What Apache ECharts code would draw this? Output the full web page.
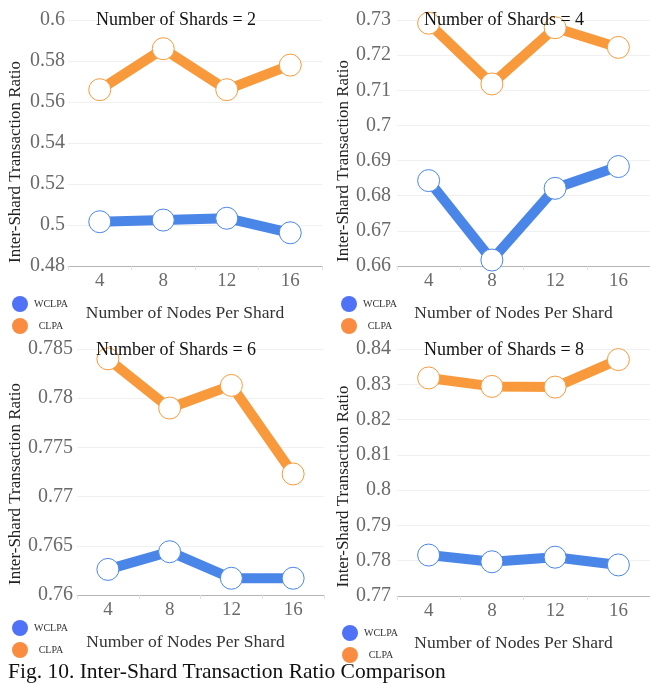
<!DOCTYPE html>
<html>
<head>
<meta charset="utf-8">
<script src="https://cdn.jsdelivr.net/npm/echarts@6/dist/echarts.min.js"></script>
<style>
  html, body { margin: 0; padding: 0; background: #fff; }
  #chart { width: 650px; height: 684px; }
</style>
</head>
<body>
<div id="chart"></div>
<script>
// Categories on every x axis
const nodesPerShard = ['4', '8', '12', '16'];

// Inter-shard transaction ratio, one pair of series per shard count
const wclpa2 = [0.5016, 0.5024, 0.5033, 0.4962];
const clpa2  = [0.5660, 0.5860, 0.5660, 0.5780];
const wclpa4 = [0.6843, 0.6617, 0.6821, 0.6883];
const clpa4  = [0.7291, 0.7118, 0.7278, 0.7222];
const wclpa6 = [0.7626, 0.7644, 0.7617, 0.7617];
const clpa6  = [0.7840, 0.7790, 0.7813, 0.7723];
const wclpa8 = [0.7816, 0.7797, 0.7810, 0.7788];
const clpa8  = [0.8318, 0.8294, 0.8292, 0.8370];

// y axis ranges: [min, max, interval]
const yRange2 = [0.48, 0.60, 0.02];
const yRange4 = [0.66, 0.73, 0.01];
const yRange6 = [0.76, 0.785, 0.005];
const yRange8 = [0.77, 0.84, 0.01];

const shardCounts = [2, 4, 6, 8];
const seriesNames = ['WCLPA', 'CLPA'];
const captionText = 'Fig. 10. Inter-Shard Transaction Ratio Comparison';

const FONT = 'Liberation Serif';
const BLUE_LINE = '#4a86e8';
const ORANGE_LINE = '#f89a3c';
const BLUE_DOT = '#4f72f7';
const ORANGE_DOT = '#f98c40';

const panels = [
  { wclpa: wclpa2, clpa: clpa2, range: yRange2,
    grid: { left: 68, top: 20, width: 254, height: 246 },
    titleX: 176, titleY: 20, yGap: 44, yShift: 38, xShift: 20, labelMargin: 3,
    legend: { left: 7, top: 291 } },
  { wclpa: wclpa4, clpa: clpa4, range: yRange4,
    grid: { left: 397, top: 20, width: 254, height: 246 },
    titleX: 504, titleY: 20, yGap: 45, yShift: 36, xShift: 20, labelMargin: 6,
    legend: { left: 336, top: 291 } },
  { wclpa: wclpa6, clpa: clpa6, range: yRange6,
    grid: { left: 77, top: 349, width: 247, height: 246 },
    titleX: 176, titleY: 350, yGap: 53, yShift: 24, xShift: 30, labelMargin: 4,
    legend: { left: 7, top: 615 } },
  { wclpa: wclpa8, clpa: clpa8, range: yRange8,
    grid: { left: 397, top: 349, width: 254, height: 247 },
    titleX: 504, titleY: 350, yGap: 45, yShift: 28, xShift: 20, labelMargin: 6,
    legend: { left: 337, top: 620 } }
];

const fmt = v => String(parseFloat(v.toFixed(3)));

const option = {
  backgroundColor: '#fff',
  animation: false,
  textStyle: { fontFamily: FONT },
  grid: [], xAxis: [], yAxis: [], series: [], legend: [], graphic: []
};

panels.forEach((p, i) => {
  option.grid.push(Object.assign({ containLabel: false }, p.grid));
  option.xAxis.push({
    type: 'category', gridIndex: i, data: nodesPerShard,
    name: 'Number of Nodes Per Shard', nameLocation: 'middle', nameGap: 38,
    nameTextStyle: { fontFamily: FONT, fontSize: 17.5, color: '#333', padding: [0, p.xShift, 0, 0] },
    axisLine: { show: true, lineStyle: { color: '#b5b5b5', width: 1 } },
    axisTick: { show: true, length: 4, lineStyle: { color: '#e2e2e2' } },
    axisLabel: { fontFamily: FONT, fontSize: 19, color: '#6a6a6a', margin: 6 },
    splitLine: { show: false }
  });
  option.yAxis.push({
    type: 'value', gridIndex: i,
    min: p.range[0], max: p.range[1], interval: p.range[2],
    name: 'Inter-Shard Transaction Ratio', nameLocation: 'middle', nameGap: p.yGap,
    nameTextStyle: { fontFamily: FONT, fontSize: 17, color: '#222', padding: [0, p.yShift, 0, 0] },
    axisLine: { show: false }, axisTick: { show: false },
    axisLabel: { fontFamily: FONT, fontSize: 20, color: '#6a6a6a', margin: p.labelMargin, formatter: fmt },
    splitLine: { show: true, lineStyle: { color: '#f0f0f0', width: 1 } }
  });
  [[p.wclpa, BLUE_LINE], [p.clpa, ORANGE_LINE]].forEach(([vals, col], k) => {
    option.series.push({
      type: 'line', name: seriesNames[k], xAxisIndex: i, yAxisIndex: i,
      data: vals, symbol: 'circle', symbolSize: 22,
      lineStyle: { color: col, width: 10 },
      itemStyle: { color: '#fff', borderColor: col, borderWidth: 1 },
      emphasis: { disabled: true }, z: 2
    });
  });
  option.legend.push({
    left: p.legend.left, top: p.legend.top, orient: 'vertical',
    icon: 'circle', itemWidth: 16, itemHeight: 16, itemGap: 6,
    selectedMode: false,
    formatter: name => '{c|' + name + '}',
    textStyle: {
      rich: { c: { fontFamily: FONT, fontSize: 10, color: '#333', width: 36, align: 'center' } }
    },
    data: [
      { name: seriesNames[0], itemStyle: { color: BLUE_DOT, borderWidth: 0 } },
      { name: seriesNames[1], itemStyle: { color: ORANGE_DOT, borderWidth: 0 } }
    ]
  });
  option.graphic.push({
    type: 'text', x: p.titleX, y: p.titleY, z: 100,
    style: {
      text: 'Number of Shards = ' + shardCounts[i],
      font: '18px "' + FONT + '"', fill: '#111',
      textAlign: 'center', textVerticalAlign: 'middle'
    }
  });
});

option.graphic.push({
  type: 'text', x: 8, y: 672, z: 100,
  style: {
    text: captionText, font: '21.5px "' + FONT + '"', fill: '#111',
    textAlign: 'left', textVerticalAlign: 'middle'
  }
});

const chart = echarts.init(document.getElementById('chart'), null, { renderer: 'canvas' });
chart.setOption(option);
</script>
</body>
</html>
